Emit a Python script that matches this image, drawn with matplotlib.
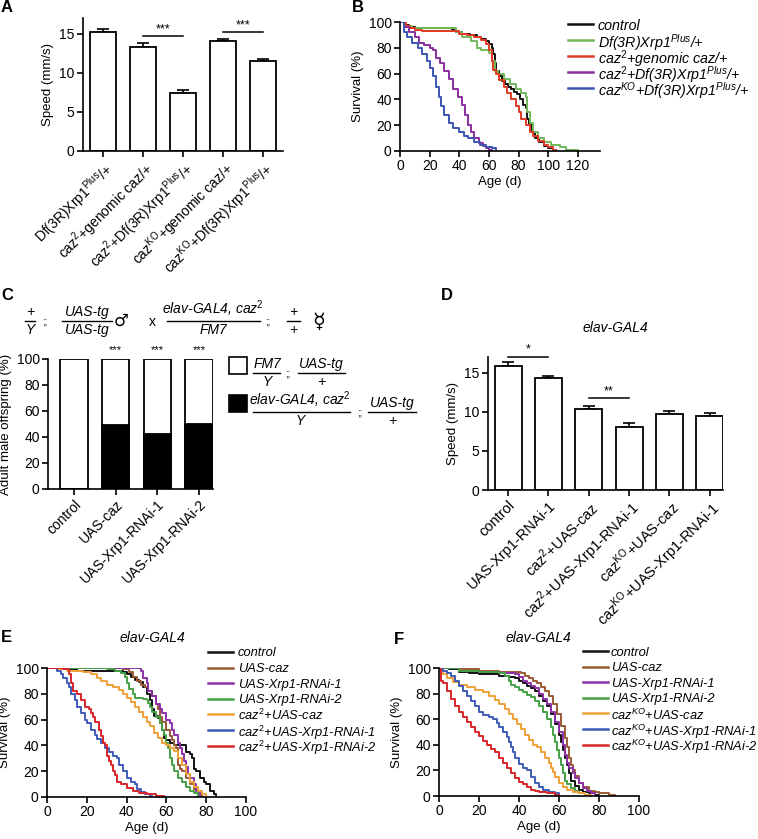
import matplotlib
matplotlib.use("Agg")
import matplotlib.pyplot as plt
from matplotlib.lines import Line2D
from matplotlib.patches import Rectangle
import numpy as np

plt.rcParams['font.family'] = ['Liberation Sans', 'DejaVu Sans']
plt.rcParams['mathtext.fontset'] = 'custom'
plt.rcParams['mathtext.rm'] = 'Liberation Sans'
plt.rcParams['mathtext.it'] = 'Liberation Sans:italic'
plt.rcParams['mathtext.bf'] = 'Liberation Sans:bold'
plt.rcParams['axes.linewidth'] = 1.2
plt.rcParams['xtick.major.width'] = 1.2
plt.rcParams['ytick.major.width'] = 1.2
plt.rcParams['xtick.major.size'] = 4
plt.rcParams['ytick.major.size'] = 4
plt.rcParams['xtick.labelsize'] = 10
plt.rcParams['ytick.labelsize'] = 10

# ---------------- DATA ----------------
# Panel A
a_labels = ["Df(3R)Xrp1$^{\\mathrm{Plus}}$/+", "caz$^{\\mathrm{2}}$+genomic caz/+",
            "caz$^{\\mathrm{2}}$+Df(3R)Xrp1$^{\\mathrm{Plus}}$/+", "caz$^{\\mathrm{KO}}$+genomic caz/+",
            "caz$^{\\mathrm{KO}}$+Df(3R)Xrp1$^{\\mathrm{Plus}}$/+"]
a_speed = [15.2, 13.3, 7.4, 14.0, 11.5]
a_err = [0.35, 0.5, 0.45, 0.35, 0.2]
a_sig = [(1, 2, 14.7, "***"), (3, 4, 15.2, "***")]

# Panel B survival curves (day, % surviving)
b_labels = ["control", "Df(3R)Xrp1$^{\\mathit{Plus}}$/+", "caz$^{\\mathit{2}}$+genomic caz/+",
            "caz$^{\\mathit{2}}$+Df(3R)Xrp1$^{\\mathit{Plus}}$/+", "caz$^{\\mathit{KO}}$+Df(3R)Xrp1$^{\\mathit{Plus}}$/+"]
b_colors = ["#111111", "#72b95a", "#e03a24", "#8a2f9e", "#3b56b2"]
b_control_d = [0, 3, 6, 10, 20, 35, 38, 42, 47, 52, 55, 58, 60, 62, 63, 64, 65, 67, 69, 71, 73, 75, 77, 79, 81, 83, 85, 86, 87, 89, 91, 94, 97, 100, 103, 105]
b_control_s = [100, 98, 96, 95, 95, 94, 92, 91, 90, 88, 87, 85, 83, 80, 75, 68, 62, 58, 54, 52, 50, 48, 46, 44, 40, 36, 33, 25, 20, 15, 10, 7, 4, 2, 1, 0]
b_df_d = [0, 4, 8, 35, 38, 42, 48, 52, 55, 60, 62, 64, 66, 70, 74, 78, 82, 85, 86, 88, 90, 93, 97, 102, 108, 112, 120]
b_df_s = [100, 97, 95, 95, 92, 88, 85, 80, 78, 76, 70, 62, 60, 56, 52, 48, 45, 42, 30, 22, 15, 10, 7, 5, 3, 1, 0]
b_gen_d = [0, 4, 7, 10, 15, 35, 40, 45, 50, 55, 58, 60, 62, 63, 65, 67, 70, 72, 75, 78, 80, 82, 85, 88, 90, 93, 97, 100, 103, 105]
b_gen_s = [100, 97, 95, 94, 93, 93, 91, 90, 88, 86, 83, 78, 70, 63, 60, 55, 50, 45, 40, 35, 30, 25, 20, 15, 12, 8, 5, 3, 1, 0]
b_c2df_d = [0, 3, 6, 10, 13, 16, 20, 22, 24, 27, 30, 33, 36, 39, 42, 44, 46, 48, 50, 53, 56, 58, 60, 62]
b_c2df_s = [100, 96, 92, 88, 84, 82, 80, 78, 72, 68, 62, 56, 48, 42, 36, 28, 20, 15, 10, 6, 4, 2, 1, 0]
b_kodf_d = [0, 3, 5, 8, 12, 15, 18, 20, 22, 24, 26, 28, 30, 33, 36, 40, 43, 46, 50, 54, 58, 62, 65]
b_kodf_s = [100, 92, 88, 84, 80, 75, 70, 64, 58, 50, 42, 35, 28, 22, 18, 15, 12, 10, 7, 5, 3, 2, 0]

# Panel C
c_labels = ["control", "UAS-caz", "UAS-Xrp1-RNAi-1", "UAS-Xrp1-RNAi-2"]
c_black = [0, 49, 42, 50]
c_total = [100, 100, 100, 100]
c_sig = ["", "***", "***", "***"]

# Panel D
d_labels = ["control", "UAS-Xrp1-RNAi-1", "caz$^{\\mathrm{2}}$+UAS-caz", "caz$^{\\mathrm{2}}$+UAS-Xrp1-RNAi-1",
            "caz$^{\\mathrm{KO}}$+UAS-caz", "caz$^{\\mathrm{KO}}$+UAS-Xrp1-RNAi-1"]
d_speed = [15.9, 14.35, 10.4, 8.1, 9.7, 9.5]
d_err = [0.4, 0.25, 0.3, 0.5, 0.4, 0.3]
d_sig = [(0, 1, 17.05, "*"), (2, 3, 11.7, "**")]

# Panel E
e_labels = ["control", "UAS-caz", "UAS-Xrp1-RNAi-1", "UAS-Xrp1-RNAi-2", "caz$^{\\mathit{2}}$+UAS-caz",
            "caz$^{\\mathit{2}}$+UAS-Xrp1-RNAi-1", "caz$^{\\mathit{2}}$+UAS-Xrp1-RNAi-2"]
ef_colors = ["#111111", "#9a5a34", "#8e30a8", "#45a046", "#f0a23a", "#3f5cb8", "#d8262a"]
e_ctrl_d = [0, 10, 15, 38, 40, 42, 44, 46, 48, 50, 52, 53, 54, 56, 57, 58, 59, 60, 62, 64, 68, 70, 72, 73, 74, 75, 77, 79, 80, 82, 84, 85]
e_ctrl_s = [100, 99, 98, 97, 95, 93, 91, 89, 85, 80, 75, 68, 63, 61, 57, 52, 46, 44, 42, 40, 40, 35, 33, 30, 22, 20, 15, 12, 10, 5, 2, 0]
e_caz_d = [0, 38, 41, 43, 45, 47, 49, 51, 53, 55, 56, 57, 58, 60, 62, 63, 64, 65, 66, 67, 68, 70, 72, 74, 76, 78]
e_caz_s = [100, 99, 97, 93, 90, 87, 85, 82, 78, 72, 68, 62, 58, 52, 47, 44, 40, 38, 25, 22, 20, 15, 10, 6, 3, 0]
e_r1_d = [0, 47, 48, 50, 51, 53, 55, 57, 58, 60, 62, 63, 64, 66, 67, 68, 69, 70, 71, 72, 74, 75, 76, 77]
e_r1_s = [100, 98, 92, 88, 82, 78, 72, 68, 65, 60, 57, 52, 48, 42, 38, 33, 28, 23, 18, 15, 10, 5, 3, 0]
e_r2_d = [0, 30, 34, 37, 39, 40, 41, 43, 44, 48, 50, 51, 52, 53, 55, 57, 58, 59, 60, 61, 62, 63, 64, 66, 68, 70, 72, 74, 76]
e_r2_s = [100, 99, 98, 96, 93, 88, 84, 80, 77, 76, 75, 73, 70, 66, 62, 57, 52, 48, 42, 38, 30, 25, 20, 15, 12, 8, 5, 3, 0]
e_c2caz_d = [0, 5, 10, 18, 22, 25, 27, 30, 33, 36, 38, 40, 42, 44, 46, 48, 50, 52, 54, 56, 58, 60, 62, 64, 66, 68, 70, 72, 74, 76, 78, 80]
e_c2caz_s = [100, 99, 98, 97, 95, 92, 90, 87, 85, 83, 80, 77, 74, 70, 66, 62, 58, 55, 50, 46, 42, 40, 38, 36, 30, 25, 18, 12, 8, 5, 2, 0]
e_c2r1_d = [0, 5, 7, 8, 10, 11, 12, 14, 15, 17, 19, 20, 22, 24, 25, 27, 29, 31, 33, 35, 36, 38, 40, 42, 44, 45, 47, 49, 52, 53]
e_c2r1_s = [100, 98, 95, 92, 88, 85, 80, 75, 70, 65, 60, 57, 52, 48, 45, 42, 38, 35, 32, 30, 25, 20, 15, 12, 10, 6, 4, 2, 1, 0]
e_c2r2_d = [0, 8, 11, 12, 13, 15, 17, 19, 21, 22, 23, 24, 26, 27, 28, 29, 30, 31, 32, 33, 34, 35, 37, 40, 43, 46, 50, 55, 59]
e_c2r2_s = [100, 99, 95, 88, 82, 80, 75, 70, 68, 65, 62, 58, 52, 47, 42, 40, 32, 28, 25, 20, 17, 12, 10, 7, 5, 3, 2, 1, 0]

# Panel F
f_labels = ["control", "UAS-caz", "UAS-Xrp1-RNAi-1", "UAS-Xrp1-RNAi-2", "caz$^{\\mathit{KO}}$+UAS-caz",
            "caz$^{\\mathit{KO}}$+UAS-Xrp1-RNAi-1", "caz$^{\\mathit{KO}}$+UAS-Xrp1-RNAi-2"]
f_ctrl_d = [0, 5, 10, 15, 20, 30, 35, 38, 40, 42, 44, 46, 48, 50, 52, 54, 56, 58, 60, 61, 62, 63, 64, 65, 66, 68, 70, 72, 75, 78, 80]
f_ctrl_s = [100, 99, 97, 96, 95, 94, 93, 92, 90, 88, 86, 84, 82, 78, 74, 70, 64, 56, 48, 42, 36, 30, 24, 18, 12, 8, 5, 3, 2, 1, 0]
f_caz_d = [0, 10, 20, 30, 38, 41, 43, 45, 47, 49, 51, 53, 55, 57, 59, 61, 63, 64, 65, 66, 67, 68, 70, 72, 75, 78, 80, 85, 88]
f_caz_s = [100, 99, 98, 97, 97, 96, 94, 92, 90, 88, 85, 82, 78, 72, 64, 55, 45, 38, 30, 24, 20, 16, 10, 7, 4, 3, 2, 1, 0]
f_r1_d = [0, 10, 20, 30, 38, 40, 42, 44, 46, 48, 50, 52, 54, 56, 58, 60, 62, 63, 64, 65, 67, 68, 70, 72, 74, 76, 78]
f_r1_s = [100, 98, 97, 96, 95, 93, 90, 88, 86, 84, 80, 76, 72, 66, 58, 50, 40, 32, 26, 22, 18, 14, 10, 6, 4, 2, 0]
f_r2_d = [0, 10, 20, 30, 33, 35, 36, 38, 40, 42, 44, 46, 48, 50, 52, 54, 56, 57, 58, 59, 60, 61, 62, 63, 64, 66, 68, 70, 73, 75]
f_r2_s = [100, 98, 97, 96, 94, 90, 87, 85, 83, 81, 79, 77, 74, 70, 66, 60, 54, 48, 42, 36, 30, 24, 18, 12, 9, 6, 4, 2, 1, 0]
f_kocaz_d = [0, 2, 4, 7, 10, 14, 18, 22, 25, 28, 30, 33, 35, 37, 39, 41, 43, 45, 47, 49, 51, 53, 55, 56, 57, 58, 60, 62, 64, 67, 70, 73, 76]
f_kocaz_s = [100, 95, 92, 89, 87, 85, 83, 81, 78, 75, 72, 68, 64, 60, 56, 52, 48, 44, 40, 38, 34, 30, 26, 22, 19, 15, 10, 7, 5, 3, 2, 1, 0]
f_kor1_d = [0, 2, 4, 6, 8, 10, 12, 14, 16, 18, 20, 22, 25, 27, 29, 30, 32, 34, 35, 36, 37, 38, 40, 42, 44, 46, 48, 50, 52, 55, 58, 60]
f_kor1_s = [100, 98, 96, 94, 90, 86, 82, 78, 74, 70, 66, 63, 62, 60, 57, 54, 50, 46, 42, 38, 34, 30, 25, 22, 20, 15, 10, 7, 5, 3, 2, 0]
f_kor2_d = [0, 1, 2, 4, 6, 8, 10, 12, 14, 16, 18, 20, 22, 24, 26, 28, 30, 32, 34, 36, 38, 40, 42, 44, 46, 48, 50, 54, 58, 60]
f_kor2_s = [100, 90, 88, 82, 76, 70, 66, 62, 58, 54, 50, 47, 43, 40, 37, 34, 30, 26, 22, 18, 14, 11, 9, 7, 5, 4, 3, 2, 1, 0]

# ---------------- FIGURE ----------------
W, H = 758, 839
fig = plt.figure(figsize=(W / 100, H / 100), dpi=100)


def ax_px(left, top, right, bottom):
    return fig.add_axes([left / W, 1 - bottom / H, (right - left) / W, (bottom - top) / H])


def fx(x):
    return x / W


def fy(y):
    return 1 - y / H


def style(ax):
    ax.spines['top'].set_visible(False)
    ax.spines['right'].set_visible(False)
    ax.tick_params(direction='out', pad=2)


def panel_letter(x, y, s):
    fig.text(fx(x), fy(y), s, fontsize=12, fontweight='bold', ha='left', va='center')


def bar_panel(ax, labels, vals, errs, sig, lab_size):
    x = np.arange(len(vals))
    ax.bar(x, vals, width=0.67, color='white', edgecolor='black', linewidth=1.3, zorder=2)
    ax.errorbar(x, vals, yerr=[np.zeros(len(errs)), errs], fmt='none', ecolor='black',
                elinewidth=1.2, capsize=4.5, capthick=1.2, zorder=1)
    for i, j, y, s in sig:
        ax.plot([x[i], x[j]], [y, y], color='black', lw=1.1, clip_on=False)
        ax.text((x[i] + x[j]) / 2, y + 0.12, s, ha='center', va='bottom', fontsize=9, clip_on=False)
    ax.set_xticks(x)
    ax.set_xticklabels(labels, rotation=45, ha='right', rotation_mode='anchor', fontsize=lab_size)
    ax.set_ylim(0, 17)
    ax.set_yticks([0, 5, 10, 15])
    ax.set_ylabel("Speed (mm/s)", fontsize=9.5, labelpad=4)
    style(ax)


def surv_panel(ax, curves, colors, labels, xmax, xticks, hx0, hx1, tx, ty0, dy, lsize):
    lines = []
    for (d, s), c in zip(curves, colors):
        ln, = ax.plot(d, s, drawstyle='steps-post', color=c, lw=1.4)
        lines.append(ln)
    ax.set_xlim(0, xmax)
    ax.set_ylim(0, 100)
    ax.set_xticks(xticks)
    ax.set_yticks([0, 20, 40, 60, 80, 100])
    ax.set_xlabel("Age (d)", fontsize=9.5, labelpad=2)
    ax.set_ylabel("Survival (%)", fontsize=9.5, labelpad=3)
    style(ax)
    # legend drawn entry by entry
    for k, (ln, lab) in enumerate(zip(lines, labels)):
        yy = ty0 + k * dy
        fig.add_artist(Line2D([fx(hx0), fx(hx1)], [fy(yy), fy(yy)], color=ln.get_color(), lw=1.8))
        fig.text(fx(tx), fy(yy), lab, ha='left', va='center_baseline', fontsize=lsize, style='italic')


# Panel A
axA = ax_px(83, 18, 283, 151)
bar_panel(axA, a_labels, a_speed, a_err, a_sig, 10)
axA.set_xlim(-0.5, 4.5)
panel_letter(1, 8, "A")

# Panel B
axB = ax_px(400, 22, 600, 151)
surv_panel(axB, [(b_control_d, b_control_s), (b_df_d, b_df_s), (b_gen_d, b_gen_s),
                 (b_c2df_d, b_c2df_s), (b_kodf_d, b_kodf_s)],
           b_colors, b_labels, 135, [0, 20, 40, 60, 80, 100, 120], 568, 593, 598, 24, 16, 10.3)
panel_letter(352, 8, "B")

# Panel C
axC = ax_px(48, 359, 213, 489)
xc = np.arange(len(c_labels))
axC.bar(xc, c_total, width=0.66, color='white', edgecolor='black', linewidth=1.3)
axC.bar(xc, c_black, width=0.66, color='black', edgecolor='black', linewidth=1.3)
for i, s in enumerate(c_sig):
    if s:
        axC.text(xc[i], 103, s, ha='center', va='bottom', fontsize=8, clip_on=False)
axC.set_xlim(-0.62, 3.33)
axC.set_ylim(0, 100)
axC.set_yticks([0, 20, 40, 60, 80, 100])
axC.set_xticks(xc)
axC.set_xticklabels(c_labels, rotation=45, ha='right', rotation_mode='anchor', fontsize=10)
axC.set_ylabel("Adult male offspring (%)", fontsize=9.5, labelpad=3)
style(axC)
panel_letter(1, 295, "C")


def frac(xc_, xl, xr, yline, num, den, size=10):
    fig.add_artist(Line2D([fx(xl), fx(xr)], [fy(yline), fy(yline)], color='black', lw=1.0))
    fig.text(fx(xc_), fy(yline - 2), num, ha='center', va='bottom', fontsize=size, style='italic')
    fig.text(fx(xc_), fy(yline + 2), den, ha='center', va='top', fontsize=size, style='italic')


# header cross
frac(30, 25, 35, 321, "+", "Y")
fig.text(fx(45), fy(321), ";;", ha='center', va='center', fontsize=7)
frac(87, 62, 112, 321, "UAS-tg", "UAS-tg")
fig.text(fx(121), fy(321), "\u2642", ha='center', va='center', fontsize=12, family=['DejaVu Sans'])
fig.text(fx(152), fy(322), "x", ha='center', va='center', fontsize=10)
frac(213, 167, 260, 321, "elav-GAL4, caz$^{\\mathit{2}}$", "FM7")
fig.text(fx(268), fy(321), ";;", ha='center', va='center', fontsize=7)
frac(293, 287, 300, 321, "+", "+")
fig.text(fx(319), fy(322), "\u263F", ha='center', va='center', fontsize=15, family=['DejaVu Sans'])

# C legend
fig.add_artist(Rectangle((fx(229), fy(374)), fx(18), 17 / H, facecolor='white', edgecolor='black', lw=1.2))
frac(267, 253, 280, 373, "FM7", "Y")
fig.text(fx(288), fy(373), ";;", ha='center', va='center', fontsize=7)
frac(321, 298, 345, 373, "UAS-tg", "+")
fig.add_artist(Rectangle((fx(229), fy(412)), fx(18), 17 / H, facecolor='black', edgecolor='black', lw=1.2))
frac(300, 253, 350, 412, "elav-GAL4, caz$^{\\mathit{2}}$", "Y")
fig.text(fx(360), fy(412), ";;", ha='center', va='center', fontsize=7)
frac(392, 368, 416, 412, "UAS-tg", "+")

# Panel D
axD = ax_px(488, 357, 723, 490)
bar_panel(axD, d_labels, d_speed, d_err, d_sig, 10.5)
axD.set_xlim(-0.5, 5.33)
fig.text(fx(615), fy(328), "elav-GAL4", ha='center', va='center', fontsize=10, style='italic')
panel_letter(441, 296, "D")

# Panel E
axE = ax_px(47, 668, 246, 797)
surv_panel(axE, [(e_ctrl_d, e_ctrl_s), (e_caz_d, e_caz_s), (e_r1_d, e_r1_s), (e_r2_d, e_r2_s),
                 (e_c2caz_d, e_c2caz_s), (e_c2r1_d, e_c2r1_s), (e_c2r2_d, e_c2r2_s)],
           ef_colors, e_labels, 100, [0, 20, 40, 60, 80, 100], 208, 233, 238, 652, 15.6, 9.3)
fig.text(fx(152), fy(638), "elav-GAL4", ha='center', va='center', fontsize=10, style='italic')
panel_letter(1, 637, "E")

# Panel F
axF = ax_px(439, 668, 639, 796)
surv_panel(axF, [(f_ctrl_d, f_ctrl_s), (f_caz_d, f_caz_s), (f_r1_d, f_r1_s), (f_r2_d, f_r2_s),
                 (f_kocaz_d, f_kocaz_s), (f_kor1_d, f_kor1_s), (f_kor2_d, f_kor2_s)],
           ef_colors, f_labels, 100, [0, 20, 40, 60, 80, 100], 583, 608, 611, 651, 15.6, 9.3)
fig.text(fx(538), fy(638), "elav-GAL4", ha='center', va='center', fontsize=10, style='italic')
panel_letter(394, 640, "F")

fig.savefig("out.png", dpi=100)
